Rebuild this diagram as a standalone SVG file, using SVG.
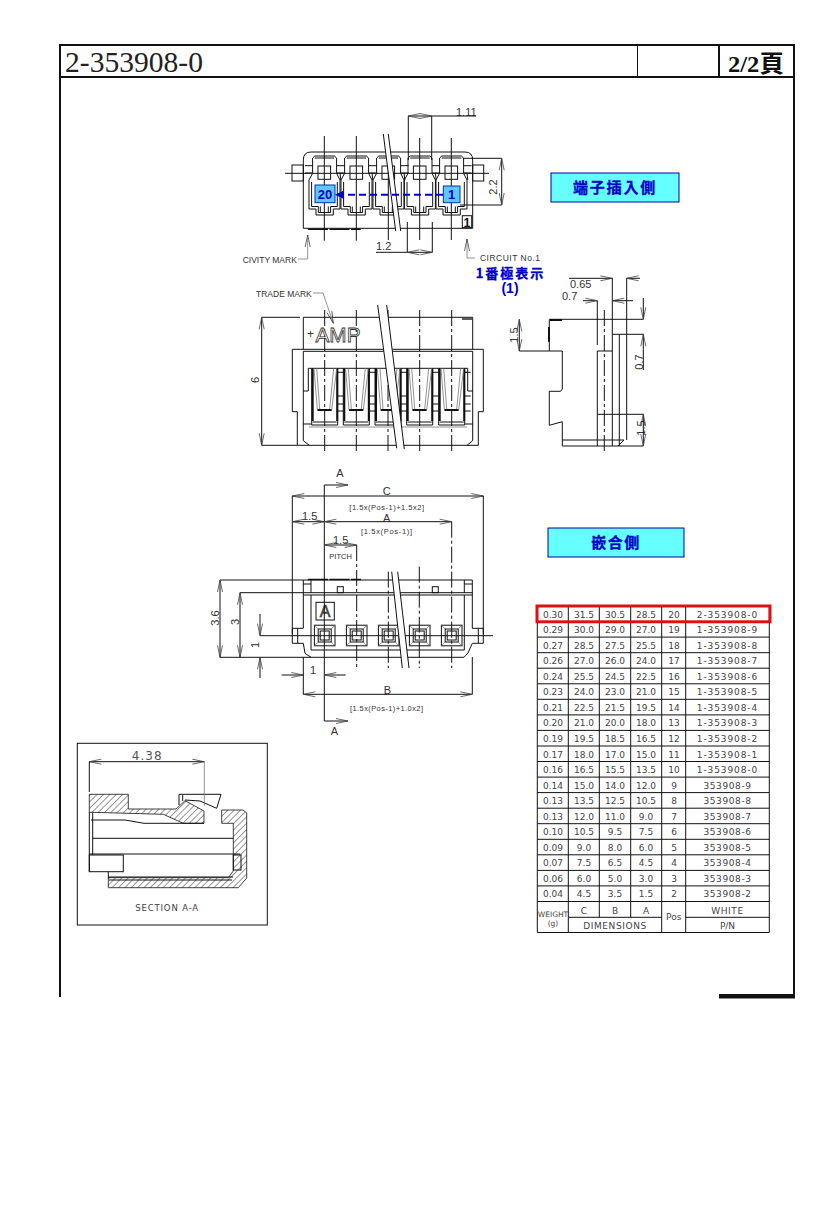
<svg xmlns="http://www.w3.org/2000/svg" width="827" height="1205" viewBox="0 0 827 1205">
<style>
.l{fill:none;stroke:#111;stroke-width:1}
.f{fill:#fff;stroke:#111;stroke-width:1}
.g{fill:none;stroke:#777;stroke-width:.8}
.c{fill:none;stroke:#111;stroke-width:1}
.d{fill:none;stroke:#111;stroke-width:1;stroke-dasharray:16 3 3 3}
.k{fill:none;stroke:#111;stroke-width:2}
.a{marker-start:url(#arr);marker-end:url(#arr)}
.ae{marker-end:url(#arr)}
.s{font-family:"Liberation Sans",sans-serif;font-size:8.5px;fill:#333}
.m{text-anchor:middle}
.n{font-family:"DejaVu Sans",sans-serif;font-size:9px;fill:#444;text-anchor:middle}
.p{font-family:"DejaVu Sans",sans-serif;font-size:9px;fill:#444;text-anchor:middle;letter-spacing:.9px}
.q{font-family:"DejaVu Sans",sans-serif;font-size:9px;fill:#444;text-anchor:middle;letter-spacing:.6px}
.z{font-family:"Noto Sans CJK TC",sans-serif;font-weight:700;fill:#0000c8;text-anchor:middle;stroke:#0000c8;stroke-width:.3}
.v{font-family:"Liberation Sans",sans-serif;font-weight:700;fill:#0000c8;text-anchor:middle}
.blue{fill:#5cc8ff;stroke:#0033aa;stroke-width:1}
.cyan{fill:#66ffff;stroke:#0000aa;stroke-width:1}
</style>
<defs>
<marker id="arr" viewBox="0 0 14 8" refX="13" refY="4" markerWidth="14" markerHeight="8" markerUnits="userSpaceOnUse" orient="auto-start-reverse"><path d="M1,1.5 L13,4 L1,6.5" fill="none" stroke="#444" stroke-width=".8"/></marker>
<pattern id="h" width="4.5" height="4.5" patternUnits="userSpaceOnUse" patternTransform="rotate(45)"><rect width="4.5" height="4.5" fill="#fff"/><line x1="0" y1="0" x2="0" y2="4.5" stroke="#333" stroke-width="1"/></pattern>
<g id="topcell">
<path class="l" d="M-11.7,173.3 V158 L-9.5,156 H10 L12.3,158 V173.3 L15.7,180 V209 H9 V215 H-8.3 V209 H-15.3 V180 Z"/>
<path class="l" d="M-9.5,158 H10 M-12.7,182 V206.5 H-6 V212.5 H6.3 V206.5 H13 V182"/>
<rect class="l" x="-6.3" y="166" width="12.6" height="13.3"/>
<path class="l" d="M-4,206.5 V212.5 M4,206.5 V212.5 M12.3,165.7 H20.3 M12.3,173 H20.3 M15.7,173 L16.5,180"/>
</g>
<g id="slot">
<path class="l" d="M-13,368.3 V425 H13 V368.3 M-12,422 H12"/>
<path class="k" d="M-12,368.3 V421 M12.5,368.3 V421 M-7.3,410 H7"/>
<path class="g" d="M-10.7,368.3 L-7.3,410 M12,368.3 L7,410 M-8,368.3 L-5,409 M9,368.3 L5,409"/>
<path class="l" d="M13,372.3 H19 M13,396 H19 M13,404 H19 M13,411 H19"/>
</g>
<g id="sock">
<rect class="l" x="-10.3" y="-10.3" width="20.6" height="20.6"/>
<rect class="l" x="-6.5" y="-6.5" width="13" height="13"/>
<rect class="l" x="-4.5" y="-4.5" width="9" height="9"/>
<path class="g" d="M-10,-10 L-6.5,-6.5 M10,-10 L6.5,-6.5 M-10,10 L-6.5,6.5 M10,10 L6.5,6.5"/>
</g>
</defs>
<rect width="827" height="1205" fill="#fff"/>

<g id="frame">
<path class="k" d="M60,997 V45 H794 V997 M60,77 H794 M719,45 V77"/>
<path class="l" d="M637.5,45 V77"/>
<rect x="719" y="994" width="76" height="4.5" fill="#111"/>
<text x="65" y="72" font-family="Liberation Serif,serif" font-size="30" fill="#222" textLength="138" lengthAdjust="spacingAndGlyphs">2-353908-0</text>
<text x="728" y="72" font-family="Liberation Serif,'Noto Sans CJK TC',serif" font-size="24" font-weight="700" fill="#111" textLength="56" lengthAdjust="spacingAndGlyphs">2/2頁</text>
</g>

<g id="view-top">
<path class="f" d="M303.3,228.3 V160 Q303.3,152 311,152 H465 Q472.7,152 472.7,160 V228.3 Z"/>
<rect class="l" x="292" y="165" width="11.3" height="16"/>
<rect class="l" x="472.7" y="165" width="11" height="16"/>
<use href="#topcell" x="324.3"/><use href="#topcell" x="356.3"/><use href="#topcell" x="388.3"/><use href="#topcell" x="419.7"/><use href="#topcell" x="451.3"/>
<path class="l" d="M305,165.7 H312 M305,173 H312"/>
<path d="M308,229.3 H360.7" stroke="#111" stroke-width="1.6" stroke-dasharray="20 1.5" fill="none"/>
<path class="l" d="M324.3,136 V240.7 M356.3,136 V240.7 M388.3,138 V240 M419.7,138 V240 M451.3,138 V240 M285,173.3 H489"/>
<polygon points="383.3,134 388.3,134 400.7,231 395.7,231" fill="#fff"/>
<path class="l" d="M383.3,134 L395.7,231 M388.3,134 L400.7,231"/>
<g id="mark20"><rect class="blue" x="315" y="185" width="20" height="17.7"/><text class="v" x="325" y="198.5" font-size="13">20</text></g>
<g id="mark1"><rect class="blue" x="443.3" y="186" width="16.7" height="16.7"/><text class="v" x="451.7" y="199" font-size="13">1</text></g>
<rect class="l" x="462.3" y="215.7" width="9.4" height="12"/>
<text x="467" y="226.5" font-family="Liberation Sans,sans-serif" font-size="12.5" font-weight="700" fill="#111" text-anchor="middle">1</text>
<text class="s" x="242.7" y="263">CIVITY  MARK</text>
<text class="s" x="480" y="261" textLength="60">CIRCUIT  No.1</text>
<text class="z" x="510.5" y="277.5" font-size="13" letter-spacing="2">1番極表示</text>
<text class="v" x="510" y="293" font-size="14">(1)</text>
<text class="s" x="456" y="116" style="font-size:11px">1.11</text>
<text class="s" x="376" y="250" style="font-size:11px">1.2</text>
<text class="s m" transform="translate(497,187) rotate(-90)" style="font-size:11px">2.2</text>
</g>
<g id="conn-top">
<path class="l" d="M408.3,116 V160 M431.7,116 V160 M431.7,116 H476 M407.3,222 V252.3 M432.3,222 V252.3 M407.3,252.3 H376 M463,158.3 H501.7 M460,205 H501.7"/>
<path class="l a" d="M408.3,116 H431.7"/>
<path class="l a" d="M407.3,252.3 H432.3"/>
<path class="l a" d="M501.7,158.3 V205"/>
<path d="M443,194.7 H337" stroke="#0000c8" stroke-width="2" stroke-dasharray="7 4" fill="none"/>
<polygon points="335,194.7 344,190.5 344,199" fill="#0000c8"/>
<path class="g ae" d="M298,259 H307.7 V235"/>
<path class="g ae" d="M475,258 H467 V239"/>
</g>

<g id="view-front">
<path class="l" d="M303.3,317.3 H472.7 V349.3 M303.3,317.3 V349.3 M292.3,349.3 H483.3 V411.7 H478.3 V445.3 H297.3 V411.7 H292.3 Z M303.3,351.3 H472.7 M303.3,351.3 V440.7 L309.3,445.3 M472.7,351.3 V440.7 L467,445.3"/>
<path class="l" d="M308.3,368.3 H467.7 V391 H472.7 M308.3,368.3 V391 H303.3 M303.3,424 H311 M465,424 H472.7"/>
<path class="g" d="M309,427 H467"/>
<use href="#slot" x="324.7"/><use href="#slot" x="356.3"/><use href="#slot" x="388"/><use href="#slot" x="419.7"/><use href="#slot" x="451.7"/>
<path class="l" d="M464.7,372.3 H467.7"/>
<path class="d" d="M324.7,310 V451.7 M356.3,310 V451.7 M388,310 V451.7 M419.7,310 V451.7 M451.7,310 V451.7"/>
<polygon points="377.7,305 386.7,305 404.3,449 396.7,448.3" fill="#fff"/>
<path class="l" d="M377.7,305 L396.7,448.3 M386.7,305 L404.3,449"/>
<path d="M462,319 H472" stroke="#333" stroke-width="1.6"/>
<text x="307" y="337.5" font-family="Liberation Sans,sans-serif" font-size="12" fill="#333">+</text>
<text x="315.5" y="341.7" font-family="Liberation Sans,sans-serif" font-size="21" fill="#fff" stroke="#333" stroke-width=".8" textLength="45" lengthAdjust="spacingAndGlyphs">AMP</text>
<text class="s" x="256" y="296.7">TRADE  MARK</text>
<text class="s m" transform="translate(258.5,380) rotate(-90)" style="font-size:11px">6</text>
</g>
<g id="conn-front">
<path class="l" d="M261.7,317.3 H300 M261.7,445.3 H297"/>
<path class="l a" d="M261.7,317.3 V445.3"/>
<path class="g ae" d="M313,293 H323 L333.3,323.3"/>
</g>

<g id="view-side">
<path class="l" d="M549.3,319.3 V351 H562.3 V389 L560.5,391.3 H549.3 V425.3 L562.3,421.7 V446 H643.3 M549.3,319.3 H643.3 M562.3,440 H624 L618,446"/>
<path class="l" d="M597.3,351 V446 M612.3,278 V446 M619.3,334.3 V446 M626.7,278 V440 M597.3,300.7 V345 M597.3,351 H612.3 M612.3,334.3 H644 M597.3,414.3 H644"/>
<path class="d" d="M604.3,310 V453.3"/>
<path class="k" d="M550,320 H562 M549,327 V341.7"/>
<text class="s" x="570" y="288.3" style="font-size:11px">0.65</text>
<text class="s" x="562" y="300" style="font-size:11px">0.7</text>
<text class="s m" transform="translate(518,335) rotate(-90)" style="font-size:11px">1.5</text>
<text class="s m" transform="translate(643,362) rotate(-90)" style="font-size:11px">0.7</text>
<text class="s m" transform="translate(645,428) rotate(-90)" style="font-size:11px">1.5</text>
</g>
<g id="conn-side">
<path class="l ae" d="M569,278.3 H612.3"/>
<path class="l ae" d="M640,278.3 H626.7"/>
<path class="l ae" d="M583,300.7 H597.3"/>
<path class="l ae" d="M633,300.7 H612.3"/>
<path class="l ae" d="M643.3,298 V319.3"/>
<path class="l ae" d="M643.3,370 V334.3"/>
<path class="l a" d="M643.3,414.3 V446"/>
<path class="l a" d="M519.3,319.3 V351"/>
<path class="l" d="M519.3,351 H549.3"/>
</g>

<g id="view-bottom">
<path class="f" d="M303.3,580 H472.3 V628.3 H483.3 V643.3 H472.3 L468,653 L464,657.3 H311 L305,653.3 L303.3,643.3 H292.3 V628.3 H303.3 Z"/>
<path class="l" d="M297.7,628.3 V643.3 M478.3,628.3 V643.3"/>
<path class="l" d="M303.3,592.7 H472.3 M303.3,595 H472.3 M311,595 V650 H464.3 V595 M311,580 V593 M464.3,580 V593"/>
<path class="l" d="M303.3,584 H311 M464.3,584 H472.3"/>
<rect class="l" x="337.3" y="586.7" width="6" height="6"/>
<rect class="l" x="432.3" y="586.7" width="6" height="6"/>
<path d="M308,579.5 H361" stroke="#111" stroke-width="1.6" fill="none" stroke-dasharray="20 1.5"/>
<use href="#sock" transform="translate(324.7,635.5)"/><use href="#sock" transform="translate(356.7,635.5)"/><use href="#sock" transform="translate(388.7,635.5)"/><use href="#sock" transform="translate(419.7,635.5)"/><use href="#sock" transform="translate(451.7,635.5)"/>
<rect class="f" x="316" y="602.3" width="18.3" height="17.7"/>
<text x="325" y="617" font-family="Liberation Sans,sans-serif" font-size="16" fill="#555" stroke="#222" stroke-width=".5" text-anchor="middle">A</text>
<path class="l" d="M260,635.7 H493"/>
<path class="d" d="M356.7,545 V668 M388.3,571.7 V668 M419.3,566.7 V668 M451.7,521.7 V668"/>
<polygon points="391.7,571.7 397.7,571.7 409,668 402.3,668" fill="#fff"/>
<path class="l" d="M391.7,571.7 L402.3,668 M397.7,571.7 L409,668"/>
<path class="l" d="M324.3,485 V721"/>
<text class="s m" x="340" y="476.7" style="font-size:11px">A</text>
<text class="s m" x="334.3" y="735" style="font-size:11px">A</text>
<text class="s m" x="386.7" y="495" style="font-size:11px">C</text>
<text class="s m" x="386.7" y="521.5" style="font-size:11px">A</text>
<text class="s m" x="387.3" y="694" style="font-size:11px">B</text>
<text class="s" x="302" y="520" style="font-size:11px">1.5</text>
<text class="s" x="333" y="544" style="font-size:11px">1.5</text>
<text class="s" x="329.3" y="559" style="font-size:7.5px">PITCH</text>
<text class="s" x="349.3" y="510" style="font-size:7.5px" textLength="74.7">[1.5x(Pos-1)+1.5x2]</text>
<text class="s" x="361" y="534" style="font-size:7.5px" textLength="51">[1.5x(Pos-1)]</text>
<text class="s" x="350" y="710.7" style="font-size:7.5px" textLength="73">[1.5x(Pos-1)+1.0x2]</text>
<text class="s m" transform="translate(219,618) rotate(-90)" style="font-size:11px">3.6</text>
<text class="s m" transform="translate(239,622) rotate(-90)" style="font-size:11px">3</text>
<text class="s m" transform="translate(259,645) rotate(-90)" style="font-size:11px">1</text>
<text class="s m" x="313" y="674" style="font-size:11px">1</text>
</g>
<g id="conn-bottom">
<path class="l ae" d="M324.3,485 H348"/>
<path class="l ae" d="M324.3,721 H348"/>
<path class="l a" d="M292.3,496 H483.3"/>
<path class="l" d="M292.3,496 V634 M483.3,496 V634"/>
<path class="l a" d="M292.3,521.7 H324.3"/>
<path class="l a" d="M324.3,521.7 H451.7"/>
<path class="l a" d="M324.3,545 H356.7"/>
<path class="l" d="M220,580 H303.3 M240,592.7 H303.3 M220,657.3 H311"/>
<path class="l a" d="M220,580 V657.3"/>
<path class="l a" d="M240,592.7 V657.3"/>
<path class="l ae" d="M260,614 V635.7"/>
<path class="l ae" d="M260,678 V657.3"/>
<path class="l ae" d="M281.7,675 H303.3"/>
<path class="l ae" d="M345.7,675 H324.3"/>
<path class="l" d="M303.3,657 V694.3 M472.3,657 V694.3"/>
<path class="l a" d="M303.3,694.3 H472.3"/>
</g>

<g id="section">
<rect x="77.3" y="743.3" width="190" height="181.7" fill="#fff" stroke="#111" stroke-width="1"/>
<path fill="url(#h)" stroke="#111" stroke-width=".8" d="M89.3,794.3 H128.3 V809 H176 L185,800.7 L204,811 V823.3 H183.3 L163.3,814.3 L92.7,812.3 H89.3 Z"/>
<path fill="url(#h)" stroke="#111" stroke-width=".8" d="M221.7,810 H243 L246.7,813 V878 L238.3,887.7 H108.3 V877.7 H228.3 L233.3,871 V823.3 H221.7 Z"/>
<path class="l" d="M91,820 H125 L144,823.3 H204 M92.7,812.3 V855 M92.7,838.3 H233.3 M89.3,854 H240 M89.3,812 V871.7 M108.3,871.7 V878 M108.3,877 H233 M109,880 H232"/>
<rect class="l" x="89.3" y="855" width="34" height="16.7"/>
<rect class="l" x="233.3" y="855" width="7.7" height="15"/>
<path class="l" d="M179,794.3 H221 L216.7,808.3 M179,794.3 V805 M182.7,795 V801 M185,800 L200,801 L216.7,808.3"/>
<path class="l" d="M89.3,761.7 V792"/>
<path class="g" d="M204.3,761.7 V806"/>
<path class="l a" d="M89.3,761.7 H204.3" stroke-width=".8"/>
<text x="131.7" y="760" font-family="DejaVu Sans,sans-serif" font-size="12" fill="#555" textLength="30">4.38</text>
<text x="166.7" y="911" font-family="DejaVu Sans,sans-serif" font-size="8.5" fill="#444" text-anchor="middle" textLength="63">SECTION A-A</text>
</g>

<g id="labels">
<g id="label-side1"><rect class="cyan" x="551" y="173" width="128" height="29"/><text class="z" x="615" y="193" font-size="15" letter-spacing="1.8">端子插入側</text></g>
<g id="label-side2"><rect class="cyan" x="548" y="528" width="136" height="29"/><text class="z" x="616" y="548" font-size="15" letter-spacing="1.5">嵌合側</text></g>
</g>

<g id="table">
<path class="l" d="M537.3,606 V932.5 H769.3 V606 Z M568.3,606 V932.5 M599.3,606 V917.3 M630.7,606 V917.3 M661.7,606 V932.5 M685.7,606 V932.5 M568.3,917.3 H661.7 M685.7,917.3 H769.3 M537.3,621.6 H769.3 M537.3,637.1 H769.3 M537.3,652.7 H769.3 M537.3,668.2 H769.3 M537.3,683.8 H769.3 M537.3,699.3 H769.3 M537.3,714.9 H769.3 M537.3,730.4 H769.3 M537.3,746 H769.3 M537.3,761.5 H769.3 M537.3,777.1 H769.3 M537.3,792.6 H769.3 M537.3,808.2 H769.3 M537.3,823.7 H769.3 M537.3,839.3 H769.3 M537.3,854.8 H769.3 M537.3,870.4 H769.3 M537.3,885.9 H769.3 M537.3,901.5 H769.3"/>
<rect x="537" y="606" width="233" height="15.8" fill="none" stroke="#dd1111" stroke-width="3"/>
<g transform="translate(0,617.5)"><text class="n" x="553">0.30</text><text class="n" x="584">31.5</text><text class="n" x="615">30.5</text><text class="n" x="646">28.5</text><text class="n" x="674">20</text><text class="p" x="727.5">2-353908-0</text></g>
<g transform="translate(0,633.1)"><text class="n" x="553">0.29</text><text class="n" x="584">30.0</text><text class="n" x="615">29.0</text><text class="n" x="646">27.0</text><text class="n" x="674">19</text><text class="p" x="727.5">1-353908-9</text></g>
<g transform="translate(0,648.6)"><text class="n" x="553">0.27</text><text class="n" x="584">28.5</text><text class="n" x="615">27.5</text><text class="n" x="646">25.5</text><text class="n" x="674">18</text><text class="p" x="727.5">1-353908-8</text></g>
<g transform="translate(0,664.2)"><text class="n" x="553">0.26</text><text class="n" x="584">27.0</text><text class="n" x="615">26.0</text><text class="n" x="646">24.0</text><text class="n" x="674">17</text><text class="p" x="727.5">1-353908-7</text></g>
<g transform="translate(0,679.7)"><text class="n" x="553">0.24</text><text class="n" x="584">25.5</text><text class="n" x="615">24.5</text><text class="n" x="646">22.5</text><text class="n" x="674">16</text><text class="p" x="727.5">1-353908-6</text></g>
<g transform="translate(0,695.3)"><text class="n" x="553">0.23</text><text class="n" x="584">24.0</text><text class="n" x="615">23.0</text><text class="n" x="646">21.0</text><text class="n" x="674">15</text><text class="p" x="727.5">1-353908-5</text></g>
<g transform="translate(0,710.8)"><text class="n" x="553">0.21</text><text class="n" x="584">22.5</text><text class="n" x="615">21.5</text><text class="n" x="646">19.5</text><text class="n" x="674">14</text><text class="p" x="727.5">1-353908-4</text></g>
<g transform="translate(0,726.4)"><text class="n" x="553">0.20</text><text class="n" x="584">21.0</text><text class="n" x="615">20.0</text><text class="n" x="646">18.0</text><text class="n" x="674">13</text><text class="p" x="727.5">1-353908-3</text></g>
<g transform="translate(0,741.9)"><text class="n" x="553">0.19</text><text class="n" x="584">19.5</text><text class="n" x="615">18.5</text><text class="n" x="646">16.5</text><text class="n" x="674">12</text><text class="p" x="727.5">1-353908-2</text></g>
<g transform="translate(0,757.5)"><text class="n" x="553">0.17</text><text class="n" x="584">18.0</text><text class="n" x="615">17.0</text><text class="n" x="646">15.0</text><text class="n" x="674">11</text><text class="p" x="727.5">1-353908-1</text></g>
<g transform="translate(0,773)"><text class="n" x="553">0.16</text><text class="n" x="584">16.5</text><text class="n" x="615">15.5</text><text class="n" x="646">13.5</text><text class="n" x="674">10</text><text class="p" x="727.5">1-353908-0</text></g>
<g transform="translate(0,788.6)"><text class="n" x="553">0.14</text><text class="n" x="584">15.0</text><text class="n" x="615">14.0</text><text class="n" x="646">12.0</text><text class="n" x="674">9</text><text class="q" x="727.5">353908-9</text></g>
<g transform="translate(0,804.1)"><text class="n" x="553">0.13</text><text class="n" x="584">13.5</text><text class="n" x="615">12.5</text><text class="n" x="646">10.5</text><text class="n" x="674">8</text><text class="q" x="727.5">353908-8</text></g>
<g transform="translate(0,819.7)"><text class="n" x="553">0.13</text><text class="n" x="584">12.0</text><text class="n" x="615">11.0</text><text class="n" x="646">9.0</text><text class="n" x="674">7</text><text class="q" x="727.5">353908-7</text></g>
<g transform="translate(0,835.2)"><text class="n" x="553">0.10</text><text class="n" x="584">10.5</text><text class="n" x="615">9.5</text><text class="n" x="646">7.5</text><text class="n" x="674">6</text><text class="q" x="727.5">353908-6</text></g>
<g transform="translate(0,850.8)"><text class="n" x="553">0.09</text><text class="n" x="584">9.0</text><text class="n" x="615">8.0</text><text class="n" x="646">6.0</text><text class="n" x="674">5</text><text class="q" x="727.5">353908-5</text></g>
<g transform="translate(0,866.3)"><text class="n" x="553">0.07</text><text class="n" x="584">7.5</text><text class="n" x="615">6.5</text><text class="n" x="646">4.5</text><text class="n" x="674">4</text><text class="q" x="727.5">353908-4</text></g>
<g transform="translate(0,881.9)"><text class="n" x="553">0.06</text><text class="n" x="584">6.0</text><text class="n" x="615">5.0</text><text class="n" x="646">3.0</text><text class="n" x="674">3</text><text class="q" x="727.5">353908-3</text></g>
<g transform="translate(0,897.4)"><text class="n" x="553">0.04</text><text class="n" x="584">4.5</text><text class="n" x="615">3.5</text><text class="n" x="646">1.5</text><text class="n" x="674">2</text><text class="q" x="727.5">353908-2</text></g>
<text class="n" x="553" y="917" style="font-size:7.5px">WEIGHT</text>
<text class="n" x="553" y="926" style="font-size:7.5px">(g)</text>
<text class="n" x="584" y="913.5">C</text><text class="n" x="615" y="913.5">B</text><text class="n" x="646" y="913.5">A</text>
<text class="q" x="727.5" y="913.5">WHITE</text>
<text class="q" x="615" y="929">DIMENSIONS</text>
<text class="n" x="673.7" y="920">Pos</text>
<text class="n" x="727.5" y="929">P/N</text>
</g>
</svg>
